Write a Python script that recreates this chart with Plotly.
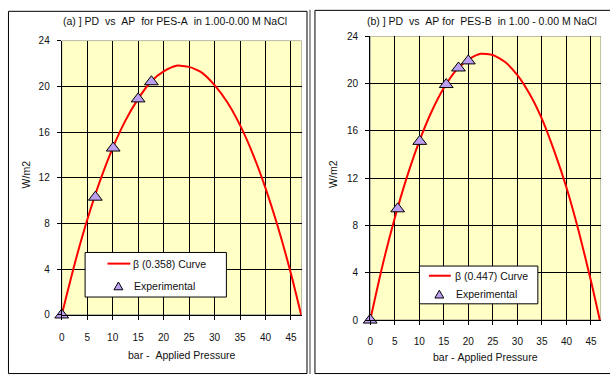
import plotly.graph_objects as go

# ---- data -------------------------------------------------------------
# (a) PES-A, beta = 0.358
curve_a_x = [0, 2.5, 5, 7.5, 10, 12.5, 15, 17.5, 20, 22.5, 25, 27.5, 30,
             32.5, 35, 37.5, 40, 42.5, 45, 47]
curve_a_y = [0, 4.4, 8.3, 11.7, 14.6, 17.0, 18.9, 20.4, 21.3, 21.8, 21.7,
             21.2, 20.1, 18.6, 16.6, 14.1, 11.1, 7.6, 3.6, 0]
exp_a_x = [0, 6.6, 10.1, 15.0, 17.6]
exp_a_y = [0, 10.3, 14.6, 18.9, 20.4]

# (b) PES-B, beta = 0.447
curve_b_x = [0, 2.5, 5, 7.5, 10, 12.5, 15, 17.5, 20, 22.5, 25, 27.5, 30,
             32.5, 35, 37.5, 40, 42.5, 45, 46.8]
curve_b_y = [0, 4.6, 8.6, 12.1, 15.1, 17.6, 19.6, 21.1, 22.0, 22.5, 22.4,
             21.8, 20.7, 19.1, 17.0, 14.3, 11.2, 7.5, 3.3, 0]
exp_b_x = [0, 5.6, 10.1, 15.5, 18.0, 20.0]
exp_b_y = [0, 9.4, 15.1, 19.9, 21.3, 21.9]

titles = ["(a) ] PD  vs  AP  for PES-A  in 1.00-0.00 M NaCl",
          "(b) ] PD  vs  AP for  PES-B  in 1.00 - 0.00 M NaCl"]
x_titles = ["bar -  Applied Pressure", "bar - Applied Pressure"]
y_title = "W/m2"
curve_names = ["\u03b2 (0.358) Curve", "\u03b2 (0.447) Curve"]
exp_name = "Experimental"

# ---- styling ----------------------------------------------------------
W, H = 610, 381
FONT = "Arial, Liberation Sans, sans-serif"
YELLOW = "#FFFFC6"
LAVENDER = "#BB9EF0"
RED = "#FF0000"
TXT = "#111111"


def px(x):
    return x / W


def py(y):
    return 1 - y / H


def nb(s):
    # keep the double spaces in labels
    return s.replace(" ", "\u00a0")


fig = go.Figure()

fig.add_trace(go.Scatter(x=curve_a_x, y=curve_a_y, mode="lines",
                         line=dict(color=RED, width=2, shape="spline", smoothing=0.6),
                         xaxis="x", yaxis="y", showlegend=False, hoverinfo="skip"))
fig.add_trace(go.Scatter(x=exp_a_x, y=exp_a_y, mode="markers",
                         marker=dict(symbol="triangle-up", size=12, color=LAVENDER,
                                     line=dict(color="black", width=1)),
                         cliponaxis=False, xaxis="x", yaxis="y", showlegend=False))
fig.add_trace(go.Scatter(x=curve_b_x, y=curve_b_y, mode="lines",
                         line=dict(color=RED, width=2, shape="spline", smoothing=0.6),
                         xaxis="x2", yaxis="y2", showlegend=False, hoverinfo="skip"))
fig.add_trace(go.Scatter(x=exp_b_x, y=exp_b_y, mode="markers",
                         marker=dict(symbol="triangle-up", size=12, color=LAVENDER,
                                     line=dict(color="black", width=1)),
                         cliponaxis=False, xaxis="x2", yaxis="y2", showlegend=False))

# panel geometry in pixels
panels = [
    dict(px0=59, px1=300, py0=35.7, py1=319, xmax=47.07, xstand=9),
    dict(px0=369, px1=601, py0=31, py1=324.3, xmax=47.05, xstand=8),
]

axis_common = dict(showgrid=True, gridcolor="black", gridwidth=1, zeroline=False,
                   showline=True, linecolor="black", linewidth=1,
                   ticks="outside", ticklen=4, tickcolor="black", tickwidth=1,
                   tickfont=dict(family=FONT, size=10, color=TXT))

layout_axes = {}
for i, p in enumerate(panels):
    sx = "" if i == 0 else str(i + 1)
    layout_axes["xaxis" + sx] = dict(
        axis_common, domain=[px(p["px0"]), px(p["px1"])], range=[0, p["xmax"]],
        tick0=0, dtick=5, anchor="y" + sx, ticklabelstandoff=p["xstand"])
    layout_axes["yaxis" + sx] = dict(
        axis_common, domain=[py(p["py1"]), py(p["py0"])], range=[0, 24],
        tick0=0, dtick=4, anchor="x" + sx, ticklabelstandoff=5)

shapes = []
annotations = []

# chart borders and separator
shapes.append(dict(type="rect", xref="paper", yref="paper",
                   x0=px(5.5), x1=px(305.5), y0=py(379.5), y1=py(5.5),
                   line=dict(color="black", width=1), layer="below"))
shapes.append(dict(type="line", xref="paper", yref="paper",
                   x0=px(308.5), x1=px(308.5), y0=py(380), y1=py(4),
                   line=dict(color="#A0A0A0", width=2), layer="below"))
shapes.append(dict(type="rect", xref="paper", yref="paper",
                   x0=px(313.5), x1=px(614), y0=py(379.5), y1=py(4.5),
                   line=dict(color="black", width=1), layer="below"))

# plot-area frame (gray) under the grid
for i, p in enumerate(panels):
    sx = "" if i == 0 else str(i + 1)
    shapes.append(dict(type="rect", xref="x" + sx, yref="y" + sx,
                       x0=0, x1=p["xmax"], y0=0, y1=24,
                       line=dict(color="#808080", width=1),
                       fillcolor=YELLOW, layer="below"))

# titles
title_pos = [(173, 16), (481, 16)]
for t, (x, y) in zip(titles, title_pos):
    annotations.append(dict(text=nb(t), x=px(x), y=py(y), xref="paper", yref="paper",
                            showarrow=False, xanchor="center", yanchor="middle",
                            font=dict(family=FONT, size=10.5, color=TXT)))

xt_pos = [(179.5, 360), (485, 362.5)]
for t, (x, y) in zip(x_titles, xt_pos):
    annotations.append(dict(text=nb(t), x=px(x), y=py(y), xref="paper", yref="paper",
                            showarrow=False, xanchor="center", yanchor="middle",
                            font=dict(family=FONT, size=10.5, color=TXT)))

yt_pos = [(23, 174), (331, 173)]
for x, y in yt_pos:
    annotations.append(dict(text=y_title, x=px(x), y=py(y), xref="paper", yref="paper",
                            showarrow=False, textangle=-90,
                            xanchor="center", yanchor="middle",
                            font=dict(family=FONT, size=10.5, color=TXT)))

# legends (drawn as boxes with samples)
legends = [
    dict(box=(82, 254, 224, 300), line=(105, 128, 266), text1=(129, 266),
         tri=(116, 289), text2=(130, 289)),
    dict(box=(418, 268, 537, 307), line=(428, 450, 278.5), text1=(452, 278.5),
         tri=(438.5, 297.5), text2=(453, 297.5)),
]
for i, lg in enumerate(legends):
    x0, y0, x1, y1 = lg["box"]
    shapes.append(dict(type="rect", xref="paper", yref="paper",
                       x0=px(x0 + 0.5), x1=px(x1 + 0.5), y0=py(y1 + 0.5), y1=py(y0 + 0.5),
                       line=dict(color="black", width=1), fillcolor="white", layer="above"))
    lx0, lx1, ly = lg["line"]
    shapes.append(dict(type="line", xref="paper", yref="paper",
                       x0=px(lx0), x1=px(lx1), y0=py(ly), y1=py(ly),
                       line=dict(color=RED, width=2), layer="above"))
    tx, ty = lg["tri"]
    hw, hh = 4.5, 4.0
    path = "M {} {} L {} {} L {} {} Z".format(
        px(tx - hw), py(ty + hh), px(tx + hw), py(ty + hh), px(tx), py(ty - hh))
    shapes.append(dict(type="path", xref="paper", yref="paper", path=path,
                       fillcolor=LAVENDER, line=dict(color="black", width=1),
                       layer="above"))
    annotations.append(dict(text=curve_names[i], x=px(lg["text1"][0]), y=py(lg["text1"][1]),
                            xref="paper", yref="paper", showarrow=False,
                            xanchor="left", yanchor="middle",
                            font=dict(family=FONT, size=10.5, color=TXT)))
    annotations.append(dict(text=exp_name, x=px(lg["text2"][0]), y=py(lg["text2"][1]),
                            xref="paper", yref="paper", showarrow=False,
                            xanchor="left", yanchor="middle",
                            font=dict(family=FONT, size=10.5, color=TXT)))

fig.update_layout(
    width=W, height=H, autosize=False,
    margin=dict(l=0, r=0, t=0, b=0, pad=0),
    paper_bgcolor="white", plot_bgcolor=YELLOW,
    showlegend=False,
    shapes=shapes, annotations=annotations,
    **layout_axes,
)

fig.write_html("out.html")
